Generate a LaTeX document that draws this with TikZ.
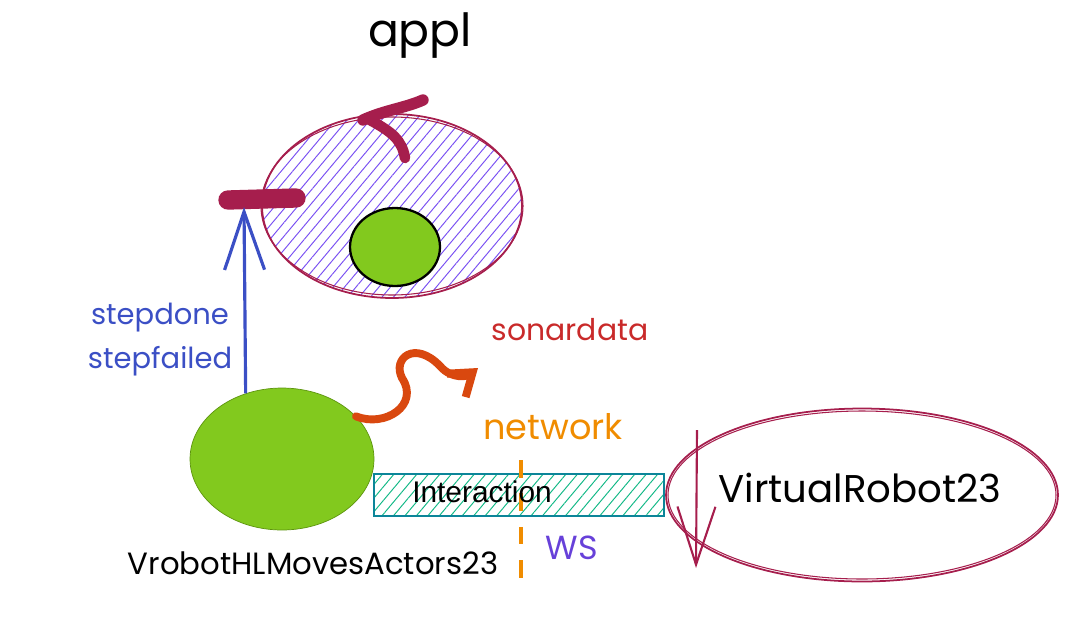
\documentclass[tikz,border=0pt]{standalone}
\usepackage{fontspec}
\setmainfont{Poppins}
\newfontfamily\plainsans{Liberation Sans}
\usetikzlibrary{shapes.geometric,patterns.meta,arrows.meta}
\definecolor{crimson}{HTML}{A61E4D}
\definecolor{leaf}{HTML}{82C91E}
\definecolor{leafdark}{HTML}{5C940D}
\definecolor{hatchviolet}{HTML}{7950F2}
\definecolor{inkblue}{HTML}{3B4FC5}
\definecolor{rust}{HTML}{D9480F}
\definecolor{sonarred}{HTML}{C92A2A}
\definecolor{netorange}{HTML}{F08C00}
\definecolor{wsviolet}{HTML}{6741D9}
\definecolor{tealedge}{HTML}{0C8599}
\definecolor{tealhatch}{HTML}{12B886}
\tikzset{
  blob/.style={ellipse,inner sep=0pt},
  lbl/.style={font=\fontsize{16.5}{19}\selectfont},
  hatch/.style={pattern={Lines[angle=50,distance=5pt,line width=0.55pt]},pattern color=#1},
}
\begin{document}
\begin{tikzpicture}[x=0.02cm,y=-0.02cm]
    \useasboundingbox (0,0) rectangle (1085,643);
    \node[blob,draw=crimson,line width=1pt,minimum width=5.2cm,minimum height=3.68cm,hatch=hatchviolet] (appl) at (392,206) {};
    \draw[crimson,line width=.6pt] (appl.center) ellipse[x radius=131,y radius=89];
    \node[blob,draw=black,line width=1.3pt,fill=leaf,minimum width=1.8cm,minimum height=1.56cm] (core) at (395,247) {};
    \node[font=\fontsize{26}{30}\selectfont] (appltitle) at (420,36) {appl};
    \draw[crimson,line width=11pt,line cap=round] (228,200) -- (296,198);
    \draw[crimson,line width=6.5pt,line cap=round] (363,120) .. controls (385,110) and (405,108) .. (423,100);
    \draw[crimson,line width=6pt,line cap=round] (370,120) .. controls (392,132) and (402,140) .. (405,158);
    \node[blob,draw=leafdark,fill=leaf,minimum width=3.68cm,minimum height=2.84cm] (robot) at (282,459) {};
    \node[lbl,font=\fontsize{17.5}{20}\selectfont] (robotname) at (313,563) {VrobotHLMovesActors23};
    \coordinate (gate) at (244,207);
    \draw[inkblue,line width=1.8pt,-{Straight Barb[length=1.16cm,width=0.8cm]}] (robot.119) -- (gate);
    \node[lbl] [inkblue] (stepdone) at (160,318) {stepdone};
    \node[lbl] [inkblue] (stepfailed) at (160,361) {stepfailed};
    \node[lbl,font=\fontsize{17}{20}\selectfont,sonarred] (sonar) at (570,330) {sonardata};
    \coordinate (sonartip) at (478,368);
    \draw[rust,line width=4.5pt,line cap=round,line join=round,-{Straight Barb[length=0.42cm,width=0.6cm]}]
        (robot.30) .. controls (385,428) and (420,405) .. (402,378)
        .. controls (392,358) and (415,340) .. (440,366)
        .. controls (452,380) and (468,376) .. (sonartip);
    \node[font=\fontsize{20}{24}\selectfont,netorange] (net) at (553,427) {network};
    \node[draw=tealedge,line width=1pt,minimum width=5.8cm,minimum height=0.84cm,hatch=tealhatch] (inter) at (519,495) {};
    \coordinate (wstop) at (521,460);
    \coordinate (wsbot) at (521,588);
    \draw[netorange,line width=1.8pt,dash pattern=on 10pt off 9pt] (wstop) -- (wsbot);
    \node[font=\plainsans\fontsize{17}{20}\selectfont] (intertext) at (482,492) {Interaction};
    \node[font=\fontsize{19}{22}\selectfont,wsviolet] (ws) at (572,548) {WS};
    \node[blob,draw=crimson,line width=1pt,minimum width=7.84cm,minimum height=3.46cm] (vr) at (862,495) {};
    \draw[crimson,line width=.6pt] (vr.center) ellipse[x radius=194,y radius=84];
    \node[font=\fontsize{22}{26}\selectfont] (vrname) at (860,488) {VirtualRobot23};
    \coordinate (vrtop) at (697,430);
    \coordinate (vrbot) at (696,568);
    \draw[crimson,line width=1.2pt,-{Straight Barb[length=1.16cm,width=0.76cm]}] (vrtop) -- (vrbot);
\end{tikzpicture}
\end{document}
